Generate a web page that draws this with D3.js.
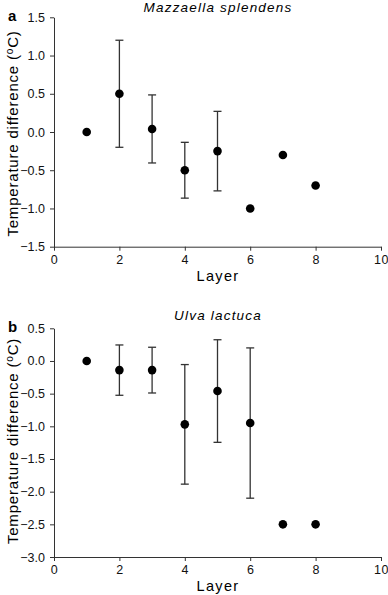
<!DOCTYPE html>
<html>
<head>
<meta charset="utf-8">
<script src="https://cdn.jsdelivr.net/npm/d3@7"></script>
<style>
  body { margin: 0; background: #fff; }
  svg { display: block; font-family: "Liberation Sans", Arial, sans-serif; }
  .axis path, .axis line { stroke: #333; }
  .axis text { font-size: 12.5px; fill: #111; }
</style>
</head>
<body>
<div id="chart"></div>
<script>
// layers 1..8
let layers = [1, 2, 3, 4, 5, 6, 7, 8]

// panel a: Mazzaella splendens
let meanA = [0, 0.5, 0.04, -0.5, -0.25, -1.0, -0.3, -0.7]
let errA  = [null, 0.7, 0.445, 0.365, 0.52, null, null, null]

// panel b: Ulva lactuca
let meanB = [0, -0.14, -0.14, -0.97, -0.46, -0.95, -2.5, -2.5]
let errB  = [null, 0.385, 0.35, 0.915, 0.785, 1.15, null, null]

let xTicks = [0, 2, 4, 6, 8, 10]
let yTicksA = [1.5, 1.0, 0.5, 0.0, -0.5, -1.0, -1.5]
let yTicksB = [0.5, 0.0, -0.5, -1.0, -1.5, -2.0, -2.5, -3.0]

let W = 388, H = 595
let svg = d3.select('#chart').append('svg')
  .attr('width', W)
  .attr('height', H)

function panel(opt) {
  let x = d3.scaleLinear().domain([0, 10]).range([54, 381])
  let y = d3.scaleLinear().domain(opt.ydomain).range([opt.top, opt.bottom])

  let g = svg.append('g')

  g.append('g')
    .attr('class', 'axis')
    .attr('transform', 'translate(0,' + opt.bottom + ')')
    .call(d3.axisBottom(x).tickValues(xTicks).tickSize(4).tickSizeOuter(0).tickFormat(d3.format('d')))
    .call(a => a.selectAll('text').attr('dy', '0.8em').attr('letter-spacing', 0.5))

  g.append('g')
    .attr('class', 'axis')
    .attr('transform', 'translate(54,0)')
    .call(d3.axisLeft(y).tickValues(opt.yticks).tickSize(4).tickSizeOuter(0).tickFormat(d3.format('.1f')))
    .call(a => a.selectAll('text').attr('x', -9))

  let pts = layers.map((l, i) => ({ l: l, m: opt.mean[i], e: opt.err[i] }))

  // error bars
  let eb = g.selectAll('.eb').data(pts.filter(d => d.e != null)).enter().append('g')
    .attr('stroke', '#333').attr('stroke-width', 1.3)
  eb.append('line')
    .attr('x1', d => x(d.l)).attr('x2', d => x(d.l))
    .attr('y1', d => y(d.m + d.e)).attr('y2', d => y(d.m - d.e))
  eb.append('line')
    .attr('x1', d => x(d.l) - 4).attr('x2', d => x(d.l) + 4)
    .attr('y1', d => y(d.m + d.e)).attr('y2', d => y(d.m + d.e))
  eb.append('line')
    .attr('x1', d => x(d.l) - 4).attr('x2', d => x(d.l) + 4)
    .attr('y1', d => y(d.m - d.e)).attr('y2', d => y(d.m - d.e))

  g.selectAll('.pt').data(pts).enter().append('circle')
    .attr('cx', d => x(d.l))
    .attr('cy', d => y(d.m))
    .attr('r', 4.3)
    .attr('fill', '#000')

  // title
  g.append('text')
    .attr('x', 218).attr('y', opt.titleY)
    .attr('text-anchor', 'middle')
    .attr('font-size', 13.5)
    .attr('letter-spacing', 1.2)
    .attr('font-style', 'italic')
    .text(opt.title)

  g.append('text')
    .attr('x', 8).attr('y', opt.top + 4)
    .attr('font-size', 15)
    .attr('font-weight', 'bold')
    .text(opt.letter)

  g.append('text')
    .attr('x', 218).attr('y', opt.bottom + 34)
    .attr('text-anchor', 'middle')
    .attr('font-size', 14.5)
    .attr('letter-spacing', 1.3)
    .text('Layer')

  let yt = g.append('text')
    .attr('transform', 'translate(17.5,' + opt.yTitleC + ') rotate(-90)')
    .attr('text-anchor', 'middle')
    .attr('font-size', 15)
    .attr('letter-spacing', 0.8)
  yt.append('tspan').text('Temperature difference (')
  yt.append('tspan').attr('dy', -5).attr('font-size', 10).text('o')
  yt.append('tspan').attr('dy', 5).text('C)')
}

panel({
  top: 17.3, bottom: 246.7, ydomain: [1.5, -1.5], yticks: yTicksA, titleY: 12, yTitleC: 133.5,
  mean: meanA, err: errA, title: 'Mazzaella splendens', letter: 'a'
})

panel({
  top: 328.3, bottom: 557, ydomain: [0.5, -3.0], yticks: yTicksB, titleY: 320, yTitleC: 441,
  mean: meanB, err: errB, title: 'Ulva lactuca', letter: 'b'
})
</script>
</body>
</html>
